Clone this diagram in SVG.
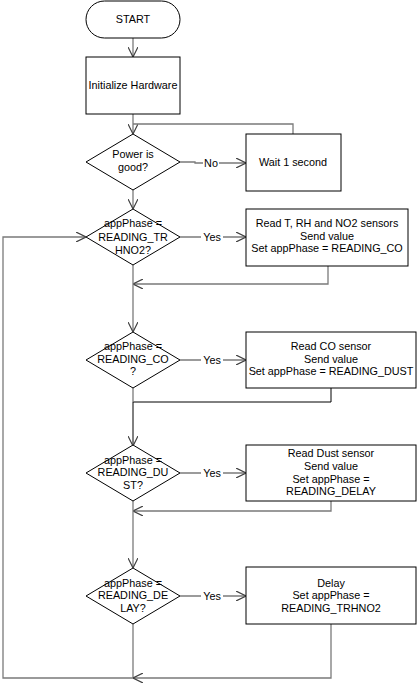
<svg xmlns="http://www.w3.org/2000/svg" width="417" height="683" viewBox="0 0 417 683">
<defs>
<marker id="arr" viewBox="0 0 10 10" refX="10" refY="5" markerWidth="10" markerHeight="10" markerUnits="userSpaceOnUse" orient="auto">
<path d="M0,0 L10,5 L0,10" fill="none" stroke="#404040" stroke-width="1.2"/>
</marker>
</defs>
<style>
.s{fill:#fff;stroke:#000;stroke-width:1}
.t{font-family:"Liberation Sans",Arial,sans-serif;font-size:10.8px;fill:#000;text-anchor:middle}
.c{fill:none;stroke:#7a7a7a;stroke-width:1.3}
.k{fill:none;stroke:#000;stroke-width:1}
.lb{fill:#fff;stroke:none}
</style>
<rect width="417" height="683" fill="#fff"/>
<g id="connectors">
<path class="c" d="M133,38 V57" marker-end="url(#arr)"/>
<path class="c" d="M133,114 V134" marker-end="url(#arr)"/>
<path class="c" d="M293,134 V124 H133"/>
<path class="c" d="M180,162 H195 V163 H246" marker-end="url(#arr)"/>
<path class="c" d="M133,190 V209" marker-end="url(#arr)"/>
<path class="c" d="M180,237 H246" marker-end="url(#arr)"/>
<path class="c" d="M328,266 V284 H133" marker-end="url(#arr)"/>
<path class="c" d="M133,265 V332" marker-end="url(#arr)"/>
<path class="c" d="M180,360 H246" marker-end="url(#arr)"/>
<path class="k" d="M331,388 V402 H133"/>
<path class="c" d="M133,388 V402"/>
<path class="k" d="M133,402 V446" stroke-width="1.4" marker-end="url(#arr)"/>
<path class="c" d="M180,473 H246" marker-end="url(#arr)"/>
<path class="c" d="M331,501 V511 H133" marker-end="url(#arr)"/>
<path class="c" d="M133,501 V568" marker-end="url(#arr)"/>
<path class="c" d="M180,596 H246" marker-end="url(#arr)"/>
<path class="c" d="M133,624 V678"/>
<path class="c" d="M331,624 V678 H133" marker-end="url(#arr)"/>
<path class="c" d="M133,678 H3 V237 H86" marker-end="url(#arr)"/>
<rect class="lb" x="203" y="156" width="16" height="13"/>
<text class="t" x="211" y="167">No</text>
<rect class="lb" x="201" y="231" width="22" height="13"/>
<text class="t" x="212" y="241">Yes</text>
<rect class="lb" x="201" y="354" width="22" height="13"/>
<text class="t" x="212" y="364">Yes</text>
<rect class="lb" x="201" y="467" width="22" height="13"/>
<text class="t" x="212" y="477">Yes</text>
<rect class="lb" x="201" y="590" width="22" height="13"/>
<text class="t" x="212" y="600">Yes</text>
</g>
<g id="start">
<rect class="s" x="86" y="1" width="94" height="37" rx="18.5" ry="18.5"/>
<text class="t" x="133" y="23">START</text>
</g>
<g id="init">
<rect class="s" x="86" y="57" width="94" height="57"/>
<text class="t" x="133" y="89">Initialize Hardware</text>
</g>
<g id="power">
<polygon class="s" points="133,134 180,162 133,190 86,162"/>
<text class="t" x="133" y="158">Power is</text>
<text class="t" x="133" y="171">good?</text>
</g>
<g id="wait">
<rect class="s" x="246" y="134" width="95" height="57"/>
<text class="t" x="293" y="166">Wait 1 second</text>
</g>
<g id="d-trhno2">
<polygon class="s" points="133,209 180,237 133,265 86,237"/>
<text class="t" x="133" y="227">appPhase =</text>
<text class="t" x="133" y="241">READING_TR</text>
<text class="t" x="133" y="254">HNO2?</text>
</g>
<g id="b-trhno2">
<rect class="s" x="246" y="209" width="162" height="57"/>
<text class="t" x="327" y="227">Read T, RH and NO2 sensors</text>
<text class="t" x="327" y="240">Send value</text>
<text class="t" x="327" y="252">Set appPhase = READING_CO</text>
</g>
<g id="d-co">
<polygon class="s" points="133,332 180,360 133,388 86,360"/>
<text class="t" x="133" y="350">appPhase =</text>
<text class="t" x="133" y="363">READING_CO</text>
<text class="t" x="133" y="375">?</text>
</g>
<g id="b-co">
<rect class="s" x="246" y="332" width="170" height="56"/>
<text class="t" x="331" y="350">Read CO sensor</text>
<text class="t" x="331" y="363">Send value</text>
<text class="t" x="331" y="375">Set appPhase = READING_DUST</text>
</g>
<g id="d-dust">
<polygon class="s" points="133,445 180,473 133,501 86,473"/>
<text class="t" x="133" y="464">appPhase =</text>
<text class="t" x="133" y="476">READING_DU</text>
<text class="t" x="133" y="489">ST?</text>
</g>
<g id="b-dust">
<rect class="s" x="246" y="445" width="170" height="56"/>
<text class="t" x="331" y="457">Read Dust sensor</text>
<text class="t" x="331" y="470">Send value</text>
<text class="t" x="331" y="483">Set appPhase =</text>
<text class="t" x="331" y="495">READING_DELAY</text>
</g>
<g id="d-delay">
<polygon class="s" points="133,568 180,596 133,624 86,596"/>
<text class="t" x="133" y="587">appPhase =</text>
<text class="t" x="133" y="599">READING_DE</text>
<text class="t" x="133" y="612">LAY?</text>
</g>
<g id="b-delay">
<rect class="s" x="246" y="567" width="170" height="57"/>
<text class="t" x="331" y="587">Delay</text>
<text class="t" x="331" y="599">Set appPhase =</text>
<text class="t" x="331" y="612">READING_TRHNO2</text>
</g>
</svg>
